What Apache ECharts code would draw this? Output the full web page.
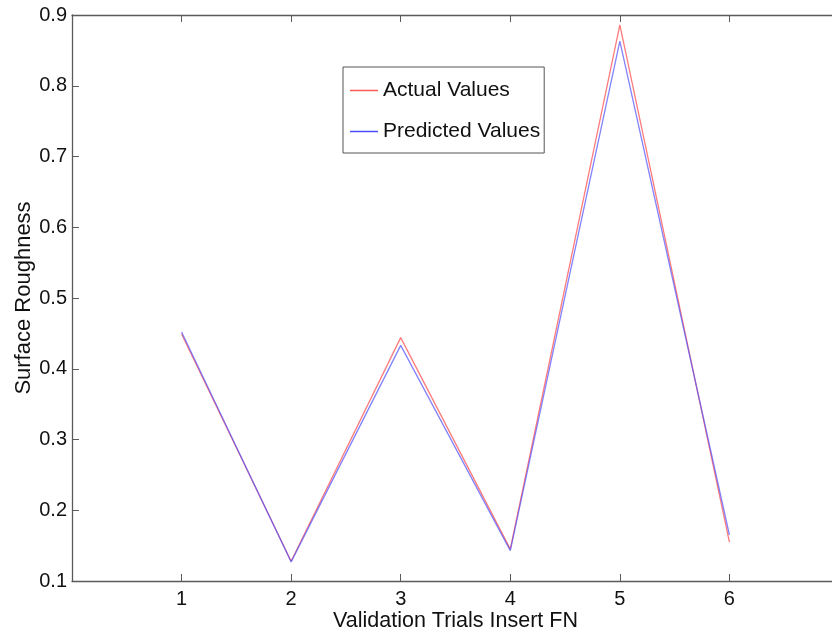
<!DOCTYPE html>
<html>
<head>
<meta charset="utf-8">
<style>
  html, body { margin: 0; padding: 0; background: #fff; }
  #chart { width: 832px; height: 636px; }
</style>
<script src="https://cdn.jsdelivr.net/npm/echarts@6/dist/echarts.min.js"></script>
</head>
<body>
<div id="chart"></div>
<script>
// Validation trials and measured vs. predicted surface roughness
const trials = [1, 2, 3, 4, 5, 6];
const actualValues = [0.449, 0.128, 0.444, 0.145, 0.886, 0.155];
const predictedValues = [0.452, 0.127, 0.433, 0.143, 0.863, 0.165];
const yTicks = [0.1, 0.2, 0.3, 0.4, 0.5, 0.6, 0.7, 0.8, 0.9];

const FONT = 'Liberation Sans, Arial, sans-serif';
const AXIS_GREY = '#5a5a5a';

const pairs = (vals) => trials.map((t, i) => [t, vals[i]]);

const chart = echarts.init(document.getElementById('chart'), null, { renderer: 'canvas' });

const frameAxis = {
  axisLine: { show: true, onZero: false, lineStyle: { color: AXIS_GREY, width: 1.3 } },
  axisTick: { show: true, inside: true, length: 7, lineStyle: { color: AXIS_GREY, width: 1 } },
  splitLine: { show: false }
};

chart.setOption({
  animation: false,
  backgroundColor: '#ffffff',
  textStyle: { fontFamily: FONT },
  // the axes box runs a little past the right edge of the canvas
  grid: {
    left: 72, top: 15, width: 767, height: 566,
    containLabel: false, outerBoundsMode: 'none'
  },
  legend: {
    orient: 'vertical',
    left: 343,
    top: 67,
    padding: [13, 4, 11, 7],
    itemGap: 20,
    itemWidth: 28,
    itemHeight: 1.5,
    icon: 'rect',
    borderColor: '#555',
    borderWidth: 1,
    backgroundColor: '#ffffff',
    textStyle: { fontFamily: FONT, fontSize: 21, color: '#111', lineHeight: 20 },
    data: ['Actual Values', 'Predicted Values']
  },
  xAxis: [
    Object.assign({
      type: 'value', min: 0, max: 7, interval: 1, position: 'bottom',
      name: 'Validation Trials Insert FN', nameLocation: 'middle', nameGap: 29,
      nameMoveOverlap: false,
      nameTextStyle: { fontFamily: FONT, fontSize: 21.5, color: '#111' },
      axisLabel: {
        fontFamily: FONT, fontSize: 20, color: '#111', margin: 8,
        formatter: (v) => (trials.indexOf(v) >= 0 ? String(v) : '')
      }
    }, frameAxis),
    Object.assign({
      type: 'value', min: 0, max: 7, interval: 1, position: 'top',
      axisLabel: { show: false }
    }, frameAxis)
  ],
  yAxis: [
    Object.assign({
      type: 'value', min: 0.1, max: 0.9, interval: 0.1, position: 'left',
      name: 'Surface Roughness', nameLocation: 'middle', nameGap: 37,
      nameMoveOverlap: false,
      nameTextStyle: { fontFamily: FONT, fontSize: 22, color: '#111' },
      axisLabel: {
        fontFamily: FONT, fontSize: 20, color: '#111', margin: 5,
        formatter: (v) => v.toFixed(1)
      }
    }, frameAxis),
    Object.assign({
      type: 'value', min: 0.1, max: 0.9, interval: 0.1, position: 'right',
      axisLabel: { show: false }
    }, frameAxis)
  ],
  series: [
    {
      name: 'Actual Values',
      type: 'line',
      data: pairs(actualValues),
      showSymbol: false,
      symbol: 'none',
      color: '#ff5a5a',
      lineStyle: { color: '#ff5a5a', width: 1.3, opacity: 0.8 },
      z: 2
    },
    {
      name: 'Predicted Values',
      type: 'line',
      data: pairs(predictedValues),
      showSymbol: false,
      symbol: 'none',
      color: '#4d4dff',
      lineStyle: { color: '#4d4dff', width: 1.3, opacity: 0.7 },
      z: 3
    }
  ]
});
</script>
</body>
</html>
